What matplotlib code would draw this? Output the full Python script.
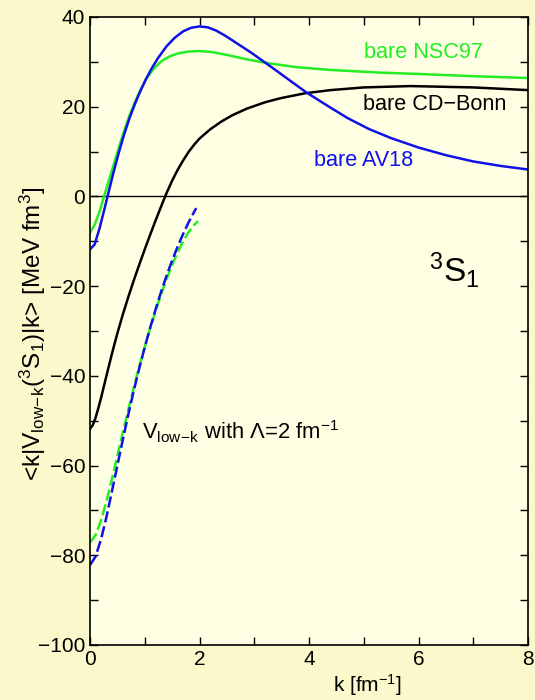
import matplotlib
matplotlib.use("Agg")
import matplotlib.pyplot as plt
from matplotlib.ticker import MultipleLocator

plt.rcParams['font.family'] = ['Liberation Sans', 'DejaVu Sans']
plt.rcParams['mathtext.fontset'] = 'custom'
plt.rcParams['mathtext.rm'] = 'Liberation Sans'
plt.rcParams['mathtext.it'] = 'Liberation Sans'

# bare AV18 (blue, solid)
k_av18 = [0, 0.085, 0.177, 0.268, 0.32, 0.42, 0.52, 0.62, 0.72, 0.82, 0.92, 1.02, 1.12, 1.24, 1.4, 1.55, 1.7,
          1.85, 2.0, 2.15, 2.3, 2.46, 2.7, 2.95, 3.25, 3.6, 3.95, 4.3, 4.7, 5.1, 5.5, 6.0, 6.5, 7.0, 7.5, 8.0]
v_av18 = [-11.8, -10.7, -7.0, -2.6, 0.0, 4.9, 9.5, 13.7, 17.4, 20.6, 23.5, 26.1, 28.4, 30.8, 33.5, 35.4, 36.8,
          37.6, 37.9, 37.7, 37.0, 35.9, 34.0, 32.0, 29.4, 26.3, 23.2, 20.5, 17.5, 15.0, 13.0, 10.9, 9.2, 7.8, 6.8, 6.0]

# bare NSC97 (green, solid)
k_nsc = [0, 0.085, 0.177, 0.256, 0.33, 0.45, 0.57, 0.725, 0.877, 1.03, 1.18, 1.3, 1.45, 1.61, 1.8, 2.0, 2.22,
         2.52, 2.89, 3.25, 3.78, 4.39, 5.3, 6.0, 7.0, 8.0]
v_nsc = [-8.1, -6.3, -3.3, 0.0, 3.0, 7.8, 12.6, 18.2, 22.6, 26.3, 28.7, 30.1, 31.2, 31.9, 32.3, 32.4, 32.2,
         31.5, 30.5, 29.7, 28.8, 28.2, 27.6, 27.3, 26.8, 26.4]

# bare CD-Bonn (black, solid)
k_cdb = [0, 0.05, 0.1, 0.15, 0.2, 0.25, 0.3, 0.4, 0.5, 0.6, 0.7, 0.8, 0.9, 1.0, 1.1, 1.2, 1.3, 1.4, 1.5, 1.6,
         1.7, 1.8, 1.9, 2.0, 2.2, 2.4, 2.6, 2.87, 3.2, 3.48, 3.93, 4.39, 5.0, 5.85, 7.0, 8.0]
v_cdb = [-51.8, -51.0, -49.4, -47.3, -45.0, -42.5, -40.0, -35.1, -30.5, -26.3, -22.4, -18.7, -15.2, -11.8,
         -8.5, -5.3, -2.2, 0.8, 3.5, 5.9, 8.0, 9.9, 11.5, 12.9, 15.0, 16.7, 18.1, 19.6, 21.0, 21.9, 23.0, 23.7,
         24.3, 24.6, 24.3, 23.7]

# V_low-k from AV18 (blue, dashed)
k_lk_av = [0, 0.1, 0.2, 0.3, 0.4, 0.5, 0.6, 0.7, 0.8, 0.9, 1.0, 1.1, 1.2, 1.3, 1.4, 1.5, 1.6, 1.7, 1.8, 1.9, 1.94]
v_lk_av = [-82.2, -80.3, -76.5, -71.5, -65.8, -60.0, -54.2, -48.6, -43.3, -38.3, -33.6, -29.2, -25.1, -21.2,
           -17.6, -14.3, -11.2, -8.4, -5.8, -3.5, -2.6]

# V_low-k from NSC97 (green, dashed)
k_lk_nsc = [0, 0.1, 0.2, 0.3, 0.4, 0.5, 0.6, 0.7, 0.8, 0.9, 1.0, 1.1, 1.2, 1.3, 1.4, 1.5, 1.6, 1.7, 1.8, 1.9, 1.97]
v_lk_nsc = [-77.2, -75.5, -72.3, -68.0, -63.0, -57.8, -52.6, -47.5, -42.6, -38.0, -33.6, -29.4, -25.5, -21.8,
            -18.4, -15.3, -12.5, -10.0, -8.0, -6.4, -5.5]

outer_bg = '#FBF9CC'
inner_bg = '#FFFFE4'
blue = '#1010E8'
green = '#22EE22'

fig = plt.figure(figsize=(5.35, 7.0), dpi=100, facecolor=outer_bg)
ax = fig.add_axes([90/535, 1 - 645/700, 438/535, 628/700])
ax.set_facecolor(inner_bg)

ax.axhline(0, color='black', lw=1.0)

ax.plot(k_cdb, v_cdb, color='black', lw=1.8)
ax.plot(k_nsc, v_nsc, color=green, lw=1.8)
ax.plot(k_av18, v_av18, color=blue, lw=1.8)
ax.plot(k_lk_nsc, v_lk_nsc, color=green, lw=1.8, dashes=(4.5, 1.6))
ax.plot(k_lk_av, v_lk_av, color=blue, lw=1.8, dashes=(4.5, 1.6))

ax.set_xlim(0, 8)
ax.set_ylim(-100, 40)
ax.xaxis.set_major_locator(MultipleLocator(2))
ax.xaxis.set_minor_locator(MultipleLocator(1))
ax.yaxis.set_major_locator(MultipleLocator(20))
ax.yaxis.set_minor_locator(MultipleLocator(10))
ax.tick_params(which='both', direction='in', top=True, right=True, labelsize=15, width=1.0)
ax.tick_params(which='major', length=6)
ax.tick_params(which='minor', length=6)
for s in ax.spines.values():
    s.set_linewidth(1.2)

ax.text(423/535, 1 - 53/700, 'bare NSC97', color=green, fontsize=15.6, ha='center', va='center', transform=fig.transFigure)
ax.text(435/535, 1 - 104/700, 'bare CD\u2212Bonn', color='black', fontsize=15.6, ha='center', va='center', transform=fig.transFigure)
ax.text(364/535, 1 - 160/700, 'bare AV18', color=blue, fontsize=15.6, ha='center', va='center', transform=fig.transFigure)
ax.text(454/535, 1 - 270/700, r'$^{3}$S$_{1}$', color='black', fontsize=24, ha='center', va='center', transform=fig.transFigure)
ax.text(240/535, 1 - 432/700, r'V$_{\mathrm{low\!-\!k}}$ with $\Lambda$=2 fm$^{-1}$', color='black', fontsize=15.8,
        ha='center', va='center', transform=fig.transFigure)

fig.text(367/535, 1 - 685/700, r'k [fm$^{-1}$]', fontsize=15, ha='center', va='center')
fig.text(33/535, 1 - 334/700, r'<k|V$_{\mathrm{low\!-\!k}}$($^{3}$S$_{1}$)|k> [MeV fm$^{3}$]', fontsize=17.5,
         ha='center', va='center', rotation=90)

fig.savefig('out.png', dpi=100, facecolor=outer_bg)
